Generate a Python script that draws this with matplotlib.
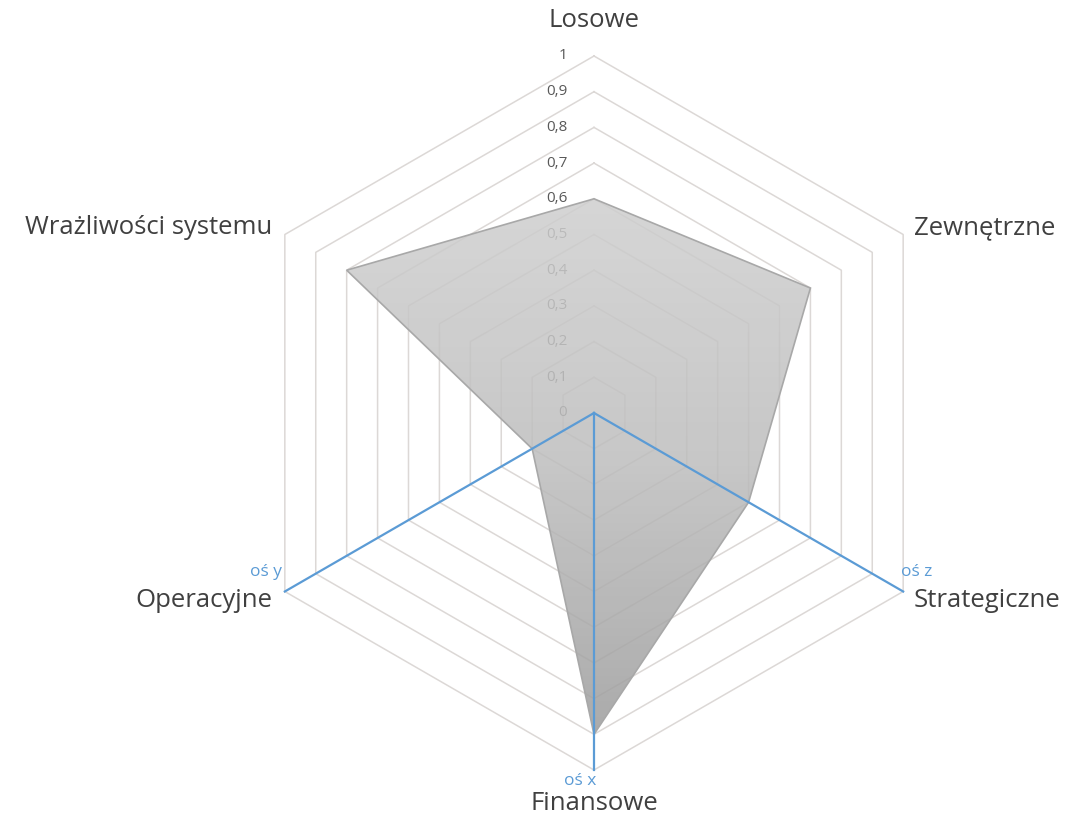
import numpy as np
import matplotlib.pyplot as plt
from matplotlib.patches import Polygon
from matplotlib.colors import LinearSegmentedColormap

categories = ["Losowe", "Zewnętrzne", "Strategiczne", "Finansowe", "Operacyjne", "Wrażliwości systemu"]
values = [0.6, 0.7, 0.5, 0.9, 0.2, 0.8]
levels = [0, 0.1, 0.2, 0.3, 0.4, 0.5, 0.6, 0.7, 0.8, 0.9, 1]
level_labels = ["0", "0,1", "0,2", "0,3", "0,4", "0,5", "0,6", "0,7", "0,8", "0,9", "1"]
axis_names = {"Finansowe": "oś x", "Operacyjne": "oś y", "Strategiczne": "oś z"}

plt.rcParams['font.family'] = ['Open Sans', 'DejaVu Sans']

fig = plt.figure(figsize=(10.69, 8.17), dpi=100)
ax = fig.add_axes([0, 0, 1, 1])
ax.set_xlim(-594 / 357, (1069 - 594) / 357)
ax.set_ylim(-404 / 357, 413 / 357)
ax.axis('off')

angles = np.deg2rad(90 - 60 * np.arange(len(categories)))
ux, uy = np.cos(angles), np.sin(angles)

# hexagon grid
for lv in levels[1:]:
    ax.plot(np.append(ux, ux[0]) * lv, np.append(uy, uy[0]) * lv,
            color='#dcd8d6', lw=1.1, zorder=1)

# level labels next to top spoke
for lv, lab in zip(levels, level_labels):
    ax.text(-0.075, lv, lab, ha='right', va='center', fontsize=11,
            color='#595959', zorder=1)

# data polygon with vertical gradient
px = ux * np.array(values)
py = uy * np.array(values)
poly = Polygon(np.column_stack([px, py]), closed=True, facecolor='none',
               edgecolor='#a8a8a8', lw=1.2, zorder=4)
ax.add_patch(poly)
grad = np.linspace(0, 1, 256).reshape(-1, 1)
cmap = LinearSegmentedColormap.from_list('g', ['#9c9c9c', '#bdbdbd', '#cfcfcf'])
im = ax.imshow(grad, cmap=cmap, origin='lower', aspect='auto',
               extent=[px.min(), px.max(), py.min(), py.max()],
               alpha=0.85, zorder=3)
im.set_clip_path(poly)

# blue axes
for name in axis_names:
    i = categories.index(name)
    ax.plot([0, ux[i]], [0, uy[i]], color='#5b9bd5', lw=1.6, zorder=5)

ax.text(-0.04, -1.03, "oś x", ha='center', va='center', fontsize=12.5, color='#5b9bd5')
ax.text(-0.875, -0.445, "oś y", ha='right', va='center', fontsize=12.5, color='#5b9bd5')
ax.text(0.86, -0.445, "oś z", ha='left', va='center', fontsize=12.5, color='#5b9bd5')

# category labels
lab_pos = {
    "Losowe": (0, 1.10, 'center'),
    "Zewnętrzne": (0.895, 0.52, 'left'),
    "Strategiczne": (0.895, -0.525, 'left'),
    "Finansowe": (0, -1.095, 'center'),
    "Operacyjne": (-0.9, -0.525, 'right'),
    "Wrażliwości systemu": (-0.9, 0.52, 'right'),
}
for c in categories:
    x, y, ha = lab_pos[c]
    ax.text(x, y, c, ha=ha, va='center', fontsize=18.5, color='#404040')

fig.savefig("out.png", dpi=100)
